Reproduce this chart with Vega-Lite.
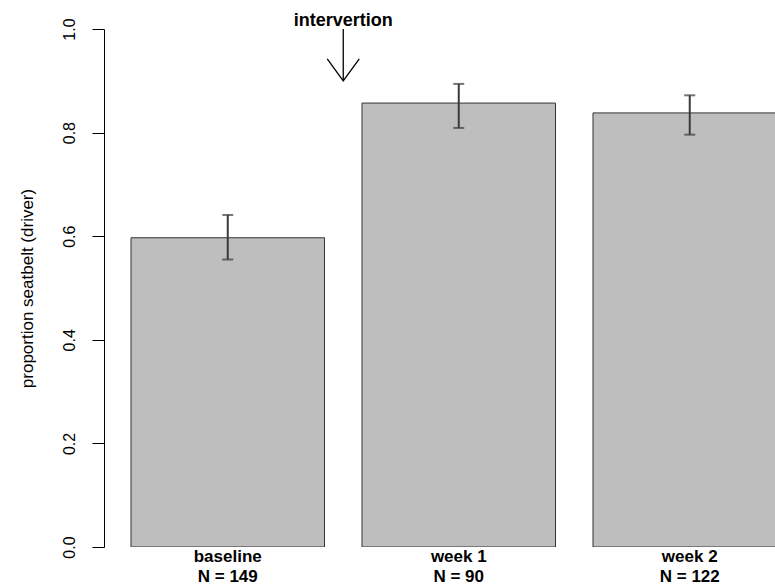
{
  "$schema": "https://vega.github.io/schema/vega-lite/v6.json",
  "width": 671,
  "height": 518,
  "autosize": {"type": "none"},
  "padding": {"left": 104, "top": 29, "right": 0, "bottom": 40},
  "background": "white",
  "config": {"view": {"stroke": null}, "font": "Liberation Sans"},
  "datasets": {
    "bars": [
      {"period": "baseline", "nlabel": "N = 149", "p": 0.597, "lo": 0.555, "hi": 0.641},
      {"period": "week 1", "nlabel": "N = 90", "p": 0.857, "lo": 0.809, "hi": 0.894},
      {"period": "week 2", "nlabel": "N = 122", "p": 0.838, "lo": 0.796, "hi": 0.872}
    ],
    "note": [{"label": "intervertion", "pos": 1.5, "top": 1.0, "tip": 0.9}]
  },
  "layer": [
    {
      "data": {"name": "bars"},
      "encoding": {
        "x": {
          "field": "period",
          "type": "nominal",
          "sort": null,
          "scale": {"range": [0, 709.5], "paddingInner": 0.1623, "paddingOuter": 0.1169},
          "axis": null
        }
      },
      "layer": [
        {
          "mark": {"type": "bar", "fill": "#bebebe", "stroke": "#333333", "strokeWidth": 1, "clip": true},
          "encoding": {
            "y": {
              "field": "p",
              "type": "quantitative",
              "scale": {"domain": [0, 1], "nice": false, "zero": true},
              "axis": {
                "title": "proportion seatbelt (driver)",
                "values": [0, 0.2, 0.4, 0.6, 0.8, 1],
                "format": ".1f",
                "grid": false,
                "domainColor": "#000000",
                "domainWidth": 1,
                "tickColor": "#000000",
                "tickWidth": 1,
                "tickSize": 12,
                "labelAngle": -90,
                "labelAlign": "center",
                "labelBaseline": "alphabetic",
                "labelPadding": 18,
                "labelFontSize": 16,
                "labelColor": "#000000",
                "titleFontSize": 17,
                "titleFontWeight": "normal",
                "titleColor": "#000000",
                "titlePadding": 25
              }
            }
          }
        },
        {
          "mark": {"type": "rule", "color": "#3a3a3a", "strokeWidth": 2},
          "encoding": {
            "y": {"field": "lo", "type": "quantitative"},
            "y2": {"field": "hi"}
          }
        },
        {
          "mark": {"type": "tick", "color": "#3a3a3a", "thickness": 2, "size": 11, "orient": "horizontal"},
          "encoding": {"y": {"field": "lo", "type": "quantitative"}}
        },
        {
          "mark": {"type": "tick", "color": "#3a3a3a", "thickness": 2, "size": 11, "orient": "horizontal"},
          "encoding": {"y": {"field": "hi", "type": "quantitative"}}
        },
        {
          "mark": {"type": "text", "baseline": "alphabetic", "dy": 15, "fontSize": 17, "fontWeight": "bold", "color": "#000000"},
          "encoding": {"y": {"datum": 0, "type": "quantitative"}, "text": {"field": "period"}}
        },
        {
          "mark": {"type": "text", "baseline": "alphabetic", "dy": 35, "fontSize": 17, "fontWeight": "bold", "color": "#000000"},
          "encoding": {"y": {"datum": 0, "type": "quantitative"}, "text": {"field": "nlabel"}}
        }
      ]
    },
    {
      "data": {"name": "note"},
      "encoding": {
        "x": {
          "field": "pos",
          "type": "quantitative",
          "scale": {"domain": [0.4643, 3.369], "nice": false, "zero": false},
          "axis": null
        }
      },
      "layer": [
        {
          "mark": {"type": "text", "baseline": "alphabetic", "dy": -3, "fontSize": 18, "fontWeight": "bold", "color": "#000000"},
          "encoding": {"y": {"field": "top", "type": "quantitative"}, "text": {"field": "label"}}
        },
        {
          "mark": {"type": "rule", "color": "#000000", "strokeWidth": 1.3},
          "encoding": {"y": {"field": "top", "type": "quantitative"}, "y2": {"field": "tip"}}
        },
        {
          "mark": {"type": "point", "shape": "M-0.727,-1L0,0L0.727,-1", "size": 1936, "filled": false, "stroke": "#000000", "strokeWidth": 1.3, "opacity": 1},
          "encoding": {"y": {"field": "tip", "type": "quantitative"}}
        }
      ]
    }
  ],
  "resolve": {"scale": {"x": "independent"}}
}
